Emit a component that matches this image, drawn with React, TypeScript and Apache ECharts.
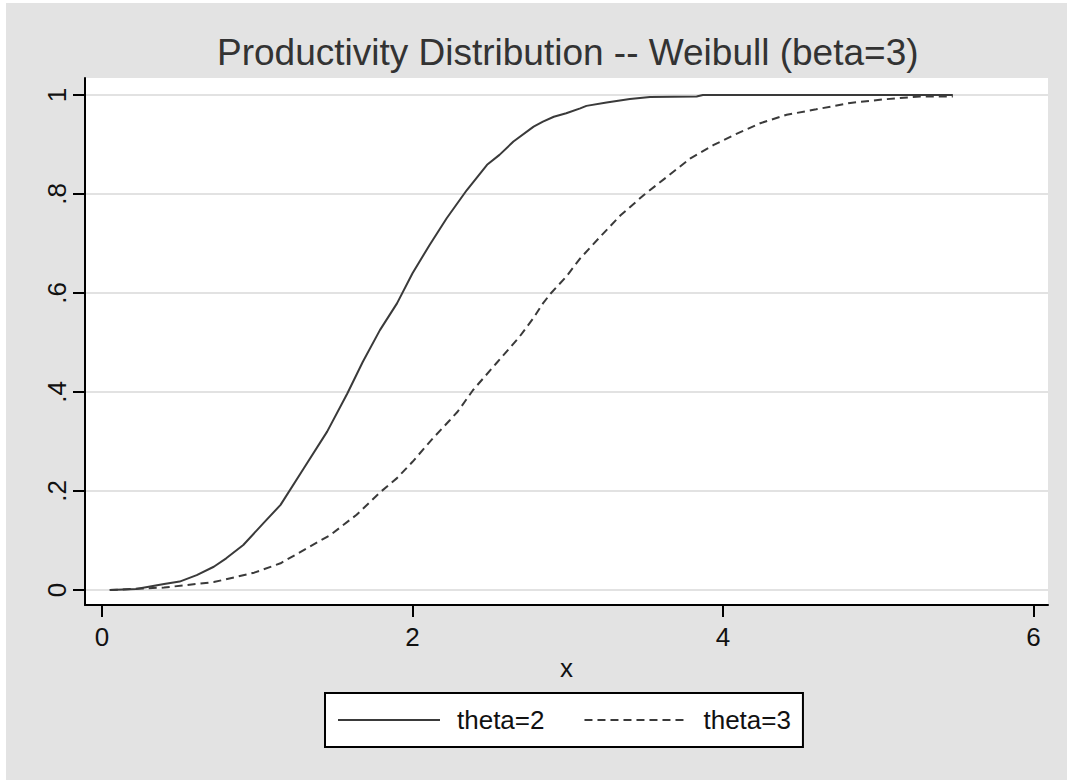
import React, { useEffect, useRef } from "react";
import * as echarts from "echarts";

const titleText = "Productivity Distribution -- Weibull (beta=3)";
const seriesNames = ["theta=2", "theta=3"];
const xTicks = [0, 2, 4, 6];
const yTicks = [0, 0.2, 0.4, 0.6, 0.8, 1];

const theta2X = [0.05, 0.22, 0.4, 0.5, 0.61, 0.72, 0.8, 0.91, 1.04, 1.15, 1.3, 1.45, 1.58, 1.68, 1.79, 1.9, 2.0, 2.11, 2.22, 2.35, 2.48, 2.56, 2.65, 2.78, 2.84, 2.91, 2.99, 3.08, 3.12, 3.25, 3.4, 3.53, 3.83, 3.87, 5.48];
const theta2Y = [0, 0.002, 0.012, 0.017, 0.03, 0.047, 0.064, 0.091, 0.135, 0.172, 0.246, 0.32, 0.397, 0.461, 0.525, 0.579, 0.64, 0.697, 0.751, 0.808, 0.859, 0.879, 0.906, 0.936, 0.946, 0.956, 0.963, 0.973, 0.978, 0.985, 0.992, 0.996, 0.997, 1.0, 1.0];

const theta3X = [0.05, 0.4, 0.72, 0.98, 1.15, 1.34, 1.47, 1.64, 1.79, 1.9, 2.0, 2.13, 2.24, 2.29, 2.39, 2.54, 2.69, 2.78, 2.84, 2.89, 2.99, 3.08, 3.21, 3.34, 3.49, 3.64, 3.79, 3.94, 4.07, 4.24, 4.41, 4.6, 4.82, 5.03, 5.27, 5.48];
const theta3Y = [0, 0.005, 0.016, 0.035, 0.054, 0.088, 0.111, 0.152, 0.197, 0.226, 0.259, 0.306, 0.343, 0.36, 0.404, 0.458, 0.512, 0.55, 0.579, 0.599, 0.633, 0.67, 0.714, 0.757, 0.798, 0.835, 0.872, 0.899, 0.919, 0.943, 0.96, 0.971, 0.984, 0.991, 0.997, 0.997];

const FONT = "'Liberation Sans', Arial, Helvetica, sans-serif";
const LINE_COLOR = "#3a3a3a";

function fmtY(v: number): string {
  if (v === 0) return "0";
  if (v === 1) return "1";
  return String(v).replace(/^0/, "");
}

export default function App() {
  const ref = useRef<HTMLDivElement>(null);
  useEffect(() => {
    if (!ref.current) return;
    const chart = echarts.init(ref.current, undefined, { renderer: "svg" });
    const d2 = theta2X.map((x, i) => [x, theta2Y[i]]);
    const d3 = theta3X.map((x, i) => [x, theta3Y[i]]);
    chart.setOption({
      animation: false,
      backgroundColor: "#e3e3e3",
      title: {
        text: titleText,
        left: 206,
        top: 26,
        textStyle: { fontFamily: FONT, fontSize: 37, fontWeight: "normal", color: "#333" },
      },
      grid: {
        left: 79,
        top: 75,
        right: 19,
        bottom: 175,
        show: true,
        backgroundColor: "#ffffff",
        borderWidth: 0,
        containLabel: false,
      },
      xAxis: {
        type: "value",
        min: -0.1095,
        max: 6.093,
        name: "x",
        nameLocation: "middle",
        nameGap: 46,
        nameTextStyle: { fontFamily: FONT, fontSize: 26, color: "#111" },
        axisLine: { show: true, onZero: false, lineStyle: { color: "#000", width: 2 } },
        axisTick: { show: true, length: 12, customValues: xTicks, lineStyle: { color: "#000", width: 2 } },
        axisLabel: { customValues: xTicks, fontFamily: FONT, fontSize: 26, color: "#111", margin: 19 },
        splitLine: { show: false },
      },
      yAxis: {
        type: "value",
        min: -0.0303,
        max: 1.0343,
        axisLine: { show: true, onZero: false, lineStyle: { color: "#000", width: 2 } },
        axisTick: { show: true, length: 12, customValues: yTicks, lineStyle: { color: "#000", width: 2 } },
        axisLabel: {
          customValues: yTicks,
          rotate: 90,
          fontFamily: FONT,
          fontSize: 26,
          color: "#111",
          margin: 15,
          formatter: (v: number) => fmtY(v),
        },
        splitLine: { show: true, lineStyle: { color: "#e2e2e2", width: 2 } },
      },
      legend: {
        data: seriesNames,
        left: 319,
        top: 690,
        orient: "horizontal",
        backgroundColor: "#fff",
        borderColor: "#000",
        borderWidth: 2,
        borderRadius: 0,
        padding: [14, 12, 14, 12],
        itemWidth: 102,
        itemHeight: 20,
        itemGap: 39,
        itemStyle: { opacity: 0 },
        textStyle: { fontFamily: FONT, fontSize: 26, color: "#111", padding: [0, 0, 0, 12] },
      },
      series: [
        {
          name: seriesNames[0],
          type: "line",
          data: d2,
          showSymbol: false,
          symbol: "none",
          lineStyle: { color: LINE_COLOR, width: 2, type: "solid" },
          itemStyle: { color: LINE_COLOR },
        },
        {
          name: seriesNames[1],
          type: "line",
          data: d3,
          showSymbol: false,
          symbol: "none",
          lineStyle: { color: LINE_COLOR, width: 2, type: [8, 5] },
          itemStyle: { color: LINE_COLOR },
        },
      ],
    });
    return () => chart.dispose();
  }, []);
  return (
    <div style={{ position: "fixed", left: 0, top: 0, width: 1067, height: 780, background: "#fff" }}>
      <div ref={ref} style={{ position: "absolute", left: 6, top: 3, width: 1061, height: 777 }} />
    </div>
  );
}
